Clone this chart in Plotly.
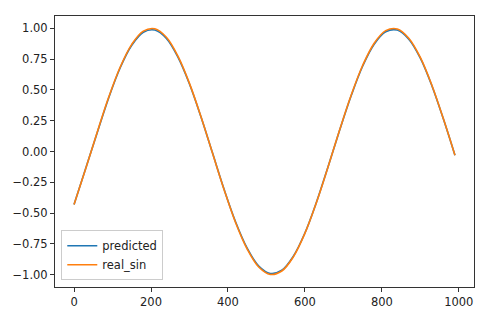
import plotly.graph_objects as go

x_vals = [0, 30, 60, 90, 120, 150, 180, 210, 240, 270, 300, 330, 360, 390, 420, 450, 480,
          510, 540, 570, 600, 630, 660, 690, 720, 750, 780, 810, 840, 870, 900, 930, 960, 990]
real_sin = [-0.43, -0.143, 0.155, 0.44, 0.686, 0.87, 0.977, 0.996, 0.927, 0.774, 0.553, 0.282,
            -0.015, -0.31, -0.578, -0.792, -0.938, -0.998, -0.97, -0.855, -0.665, -0.414, -0.127,
            0.172, 0.455, 0.698, 0.879, 0.981, 0.995, 0.92, 0.764, 0.538, 0.265, -0.031]
predicted = [-0.43, -0.14, 0.15, 0.435, 0.68, 0.862, 0.968, 0.986, 0.918, 0.766, 0.548, 0.28,
             -0.013, -0.307, -0.572, -0.785, -0.93, -0.99, -0.964, -0.85, -0.662, -0.412, -0.126,
             0.17, 0.45, 0.692, 0.871, 0.972, 0.986, 0.912, 0.758, 0.534, 0.263, -0.03]

x_ticks = [0, 200, 400, 600, 800, 1000]
y_ticks = [-1.0, -0.75, -0.5, -0.25, 0.0, 0.25, 0.5, 0.75, 1.0]

fig = go.Figure()
fig.add_trace(go.Scatter(x=x_vals, y=predicted, mode="lines", name="predicted",
                         line=dict(color="#1f77b4", width=1.6, shape="spline")))
fig.add_trace(go.Scatter(x=x_vals, y=real_sin, mode="lines", name="real_sin",
                         line=dict(color="#ff7f0e", width=1.6, shape="spline")))

axis_common = dict(showline=True, linecolor="#333", linewidth=1, mirror=True,
                   ticks="outside", ticklen=4, tickcolor="#333", showgrid=False,
                   zeroline=False, tickfont=dict(family="DejaVu Sans", size=11.5, color="#222"))

fig.update_xaxes(range=[-49.5, 1039.5], tickvals=x_ticks,
                 ticktext=[str(v) for v in x_ticks], **axis_common)
fig.update_yaxes(range=[-1.1, 1.1], tickvals=y_ticks,
                 ticktext=[f"{v:.2f}".replace("-", "\u2212") for v in y_ticks], **axis_common)

fig.update_layout(
    width=488, height=320,
    margin=dict(l=55, r=14, t=16, b=33),
    paper_bgcolor="white", plot_bgcolor="white",
    font=dict(family="DejaVu Sans", size=11.5, color="#222"),
    legend=dict(x=0.015, y=0.025, xanchor="left", yanchor="bottom",
                bgcolor="rgba(255,255,255,0.8)", bordercolor="#ccc", borderwidth=1,
                font=dict(size=11.5), tracegroupgap=0),
)

fig.write_html("out.html")
